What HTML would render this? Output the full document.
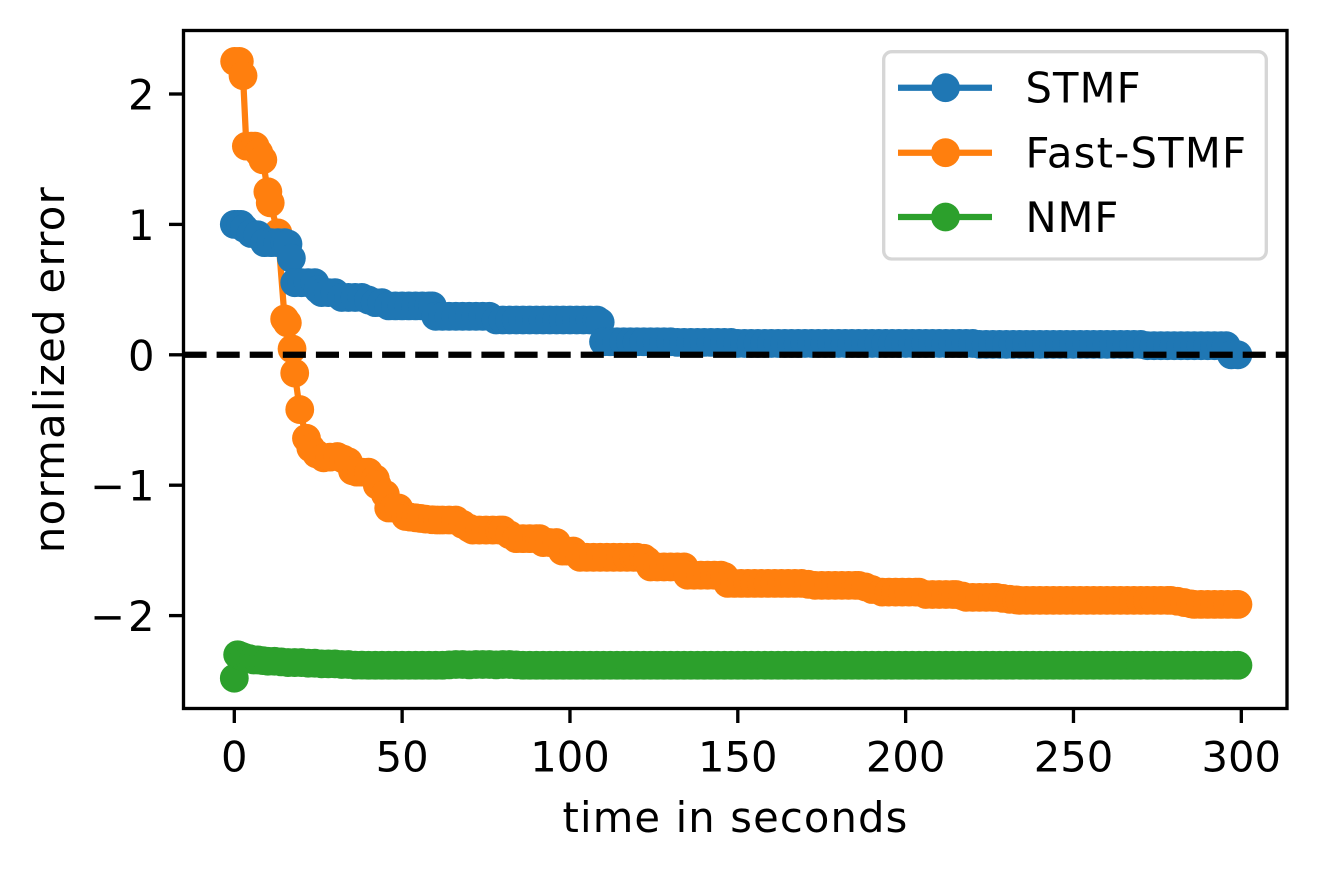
<!DOCTYPE html>
<html lang="en">
<head>
<meta charset="utf-8">
<title>Normalized error over time</title>
<style>
html,body{margin:0;padding:0;background:#fff;}
svg{display:block;}
text{font-family:"DejaVu Sans",sans-serif;font-size:41.67px;fill:#000;}
</style>
</head>
<body>
<svg id="chart" xmlns="http://www.w3.org/2000/svg" width="1317" height="871" viewBox="0 0 1317 871">
  <rect x="183.5" y="30.5" width="1103.5" height="678" fill="#fff"/>
  <defs><clipPath id="plot-clip"><rect x="183.5" y="30.5" width="1103.5" height="678"/></clipPath></defs>
  <g id="series-layer" clip-path="url(#plot-clip)"></g>
  <g id="tick-layer"></g>
  <rect x="183.5" y="30.5" width="1103.5" height="678" fill="none" stroke="#000" stroke-width="3.33"/>
  <text x="735.5" y="832" text-anchor="middle" style="letter-spacing:1.14px">time in seconds</text>
  <text transform="translate(64 369.5) rotate(-90)" text-anchor="middle" style="letter-spacing:1.35px">normalized error</text>
  <g>
    <rect x="883.7" y="51.7" width="382.6" height="207.3" rx="8" ry="8" fill="#fff" fill-opacity="0.8" stroke="#d6d6d6" stroke-width="3.33"/>
    <g>
      <line x1="898" x2="992" y1="87.7" y2="87.7" stroke="#1f77b4" stroke-width="6.25"/>
      <circle cx="945.5" cy="87.7" r="14.4" fill="#1f77b4"/>
      <text x="1025.5" y="102.5" style="letter-spacing:1.1px">STMF</text>
    </g>
    <g>
      <line x1="898" x2="992" y1="152.7" y2="152.7" stroke="#ff7f0e" stroke-width="6.25"/>
      <circle cx="945.5" cy="152.7" r="14.4" fill="#ff7f0e"/>
      <text x="1025.5" y="167.5" style="letter-spacing:1.25px">Fast-STMF</text>
    </g>
    <g>
      <line x1="898" x2="992" y1="217" y2="217" stroke="#2ca02c" stroke-width="6.25"/>
      <circle cx="945.5" cy="217" r="14.4" fill="#2ca02c"/>
      <text x="1025.5" y="232" style="letter-spacing:0.9px">NMF</text>
    </g>
  </g>
</svg>
<script>
var xTickValues = [0, 50, 100, 150, 200, 250, 300];
var xTickLabels = ["0", "50", "100", "150", "200", "250", "300"];
var yTickValues = [-2, -1, 0, 1, 2];
var yTickLabels = ["\u22122", "\u22121", "0", "1", "2"];
var referenceValue = 0;

var stmfTimes = [
0,1,2,3,5,7,9,11,13,15,16,17,18,20,22,24,25,26,28,30,32,34,36,38,40,42,44,46,48,50,52,54,56,58,59,
60,62,64,66,68,70,72,74,76,78,
80,82,84,86,88,90,92,94,96,98,
100,102,104,106,108,109,110,112,114,116,
118,120,122,124,126,128,130,132,134,136,
138,140,142,144,146,148,150,152,154,156,
158,160,162,164,166,168,170,172,174,176,
178,180,182,184,186,188,190,192,194,196,
198,200,202,204,206,208,210,212,214,216,
218,220,222,224,226,228,230,232,234,236,
238,240,242,244,246,248,250,252,254,256,
258,260,262,264,266,268,270,272,274,276,
278,280,282,284,286,288,290,292,294,295.5,
297,299];
var stmfValues = [
1,1,1,0.97,0.93,0.92,0.86,0.86,0.86,0.86,0.85,0.74,0.553,0.553,0.553,0.553,0.50,0.477,0.477,0.477,0.44,0.44,0.44,0.44,0.42,0.40,0.40,0.375,0.375,0.375,0.375,0.375,0.375,0.375,0.375,
0.295,0.295,0.295,0.295,0.295,0.295,0.295,0.295,0.295,0.267,
0.267,0.267,0.267,0.267,0.267,0.267,0.267,0.267,0.267,0.267,
0.267,0.267,0.267,0.267,0.267,0.25,0.10,0.10,0.10,0.10,
0.10,0.10,0.10,0.10,0.10,0.10,0.10,0.095,0.095,0.095,
0.095,0.095,0.095,0.095,0.095,0.095,0.087,0.087,0.087,0.087,
0.087,0.087,0.087,0.087,0.087,0.087,0.087,0.087,0.087,0.087,
0.087,0.087,0.087,0.087,0.087,0.087,0.087,0.087,0.087,0.087,
0.087,0.087,0.087,0.087,0.087,0.087,0.087,0.087,0.087,0.087,
0.087,0.087,0.08,0.08,0.08,0.08,0.08,0.08,0.08,0.08,
0.08,0.08,0.08,0.08,0.08,0.08,0.08,0.08,0.08,0.08,
0.08,0.08,0.08,0.08,0.08,0.08,0.08,0.07,0.07,0.07,
0.07,0.07,0.07,0.07,0.07,0.07,0.07,0.07,0.07,0.07,
0,0];

var fastStmfTimes = [
0.1,1.5,2.6,3.6,5,6.2,7.3,8.5,10,10.7,13,15,15.8,17.2,18,19.5,21.5,22.8,24.5,26.6,28.5,30.7,32.5,34,35.2,36.5,38,40,42,42.6,45,46,47.5,49,51,52.5,54,55.5,57,59,60.5,62,64,
66,68,70,71,73,75,77,79,80,82,
84,86,88,90,91,92,94,96,97.7,99,
101,103,105,107,109,111,113,115,117,119,
120,122,123,124,126,128,130,132,134,135,
137,139,141,143,145,146,147,149,151,153,
155,157,159,161,163,165,167,169,171,173,
175,177,179,181,183,185,186,188,190,193,
195,197,199,201,203,204,206,208,210,212,
214,215,217,218,220,222,224,226,227,229,
231,233,234,236,238,240,242,244,246,248,
250,252,254,256,258,260,262,264,266,268,
270,272,274,276,278,279,281,283,285,286,
288,290,292,294,296,298,299];
var fastStmfValues = [
2.25,2.25,2.14,1.60,1.60,1.60,1.55,1.495,1.25,1.165,0.935,0.275,0.245,0.045,-0.14,-0.42,-0.64,-0.715,-0.76,-0.79,-0.785,-0.78,-0.80,-0.82,-0.89,-0.90,-0.90,-0.90,-0.95,-1.0,-1.07,-1.175,-1.175,-1.175,-1.24,-1.245,-1.25,-1.255,-1.26,-1.265,-1.267,-1.267,-1.267,
-1.267,-1.30,-1.33,-1.344,-1.344,-1.344,-1.344,-1.344,-1.344,-1.38,
-1.41,-1.41,-1.41,-1.41,-1.41,-1.44,-1.44,-1.44,-1.505,-1.505,
-1.505,-1.553,-1.553,-1.553,-1.553,-1.553,-1.553,-1.553,-1.553,-1.553,
-1.553,-1.56,-1.58,-1.627,-1.627,-1.627,-1.627,-1.627,-1.627,-1.69,
-1.69,-1.69,-1.69,-1.69,-1.69,-1.70,-1.753,-1.753,-1.753,-1.753,
-1.753,-1.753,-1.753,-1.753,-1.753,-1.753,-1.753,-1.753,-1.76,-1.768,
-1.768,-1.768,-1.768,-1.768,-1.768,-1.768,-1.768,-1.78,-1.80,-1.82,
-1.82,-1.82,-1.82,-1.82,-1.82,-1.82,-1.838,-1.838,-1.838,-1.838,
-1.838,-1.838,-1.85,-1.86,-1.86,-1.86,-1.86,-1.86,-1.86,-1.868,
-1.875,-1.88,-1.883,-1.883,-1.883,-1.883,-1.883,-1.883,-1.883,-1.883,
-1.883,-1.883,-1.883,-1.883,-1.883,-1.883,-1.883,-1.883,-1.883,-1.883,
-1.883,-1.883,-1.883,-1.883,-1.883,-1.883,-1.89,-1.90,-1.91,-1.914,
-1.914,-1.914,-1.914,-1.914,-1.914,-1.914,-1.914];

var nmfTimes = [
0,1,2,3,4.5,5.7,7,8.5,10,12,14,16,18,20,22,24,26,28,30,32,34,36,38,
40,42,44,46,48,50,52,54,56,58,
60,62,64,66,68,70,72,74,76,78,
80,82,84,86,88,90,92,94,96,98,
100,102,104,106,108,110,112,114,116,118,
120,122,124,126,128,130,132,134,136,138,
140,142,144,146,148,150,152,154,156,158,
160,162,164,166,168,170,172,174,176,178,
180,182,184,186,188,190,192,194,196,198,
200,202,204,206,208,210,212,214,216,218,
220,222,224,226,228,230,232,234,236,238,
240,242,244,246,248,250,252,254,256,258,
260,262,264,266,268,270,272,274,276,278,
280,282,284,286,288,290,292,294,296,298,
299];
var nmfValues = [
-2.48,-2.30,-2.31,-2.32,-2.33,-2.34,-2.34,-2.345,-2.35,-2.35,-2.355,-2.36,-2.36,-2.36,-2.365,-2.365,-2.37,-2.37,-2.37,-2.375,-2.375,-2.38,-2.38,
-2.381,-2.381,-2.381,-2.381,-2.381,-2.381,-2.381,-2.381,-2.381,-2.381,
-2.381,-2.381,-2.378,-2.375,-2.375,-2.378,-2.375,-2.375,-2.375,-2.378,
-2.375,-2.375,-2.378,-2.381,-2.381,-2.381,-2.381,-2.381,-2.381,-2.381,
-2.381,-2.381,-2.381,-2.381,-2.381,-2.381,-2.381,-2.381,-2.381,-2.381,
-2.381,-2.381,-2.381,-2.381,-2.381,-2.381,-2.381,-2.381,-2.381,-2.381,
-2.381,-2.381,-2.381,-2.381,-2.381,-2.381,-2.381,-2.381,-2.381,-2.381,
-2.381,-2.381,-2.381,-2.381,-2.381,-2.381,-2.381,-2.381,-2.381,-2.381,
-2.381,-2.381,-2.381,-2.381,-2.381,-2.381,-2.381,-2.381,-2.381,-2.381,
-2.381,-2.381,-2.381,-2.381,-2.381,-2.381,-2.381,-2.381,-2.381,-2.381,
-2.381,-2.381,-2.381,-2.381,-2.381,-2.381,-2.381,-2.381,-2.381,-2.381,
-2.381,-2.381,-2.381,-2.381,-2.381,-2.381,-2.381,-2.381,-2.381,-2.381,
-2.381,-2.381,-2.381,-2.381,-2.381,-2.381,-2.381,-2.381,-2.381,-2.381,
-2.381,-2.381,-2.381,-2.381,-2.381,-2.381,-2.381,-2.381,-2.381,-2.381,
-2.381];

var SVG_NS = "http://www.w3.org/2000/svg";
var X0 = 234.3, XS = 3.3567;
var Y0 = 354.8, YS = 130.4;

function xScale(t) { return X0 + t * XS; }
function yScale(v) { return Y0 - v * YS; }

function drawSeries(times, values, color, name) {
  var layer = document.getElementById("series-layer");
  var g = document.createElementNS(SVG_NS, "g");
  
  
  var pts = [];
  for (var i = 0; i < times.length; i++) {
    pts.push(xScale(times[i]).toFixed(2) + "," + yScale(values[i]).toFixed(2));
  }
  var line = document.createElementNS(SVG_NS, "polyline");
  
  
  line.setAttribute("points", pts.join(" "));
  line.setAttribute("fill", "none");
  line.setAttribute("stroke", color);
  line.setAttribute("stroke-width", "6.25");
  g.appendChild(line);
  for (var j = 0; j < times.length; j++) {
    var c = document.createElementNS(SVG_NS, "circle");
    
    
    c.setAttribute("cx", xScale(times[j]).toFixed(2));
    c.setAttribute("cy", yScale(values[j]).toFixed(2));
    c.setAttribute("r", "14.4");
    c.setAttribute("fill", color);
    g.appendChild(c);
  }
  layer.appendChild(g);
}

function drawReference() {
  var layer = document.getElementById("series-layer");
  var l = document.createElementNS(SVG_NS, "line");
  
  
  l.setAttribute("x1", "183.5");
  l.setAttribute("x2", "1287");
  l.setAttribute("y1", yScale(referenceValue));
  l.setAttribute("y2", yScale(referenceValue));
  l.setAttribute("stroke", "#000");
  l.setAttribute("stroke-width", "6.25");
  l.setAttribute("stroke-dasharray", "23.1 10");
  layer.appendChild(l);
}

function drawTicks() {
  var layer = document.getElementById("tick-layer");
  xTickValues.forEach(function (v, i) {
    var px = xScale(v);
    var t = document.createElementNS(SVG_NS, "line");
    
    
    t.setAttribute("x1", px); t.setAttribute("x2", px);
    t.setAttribute("y1", "708.5"); t.setAttribute("y2", "723");
    t.setAttribute("stroke", "#000"); t.setAttribute("stroke-width", "3.33");
    layer.appendChild(t);
    var s = document.createElementNS(SVG_NS, "text");
    
    
    s.setAttribute("x", px); s.setAttribute("y", "771.5");
    s.setAttribute("text-anchor", "middle");
    s.textContent = xTickLabels[i];
    layer.appendChild(s);
  });
  yTickValues.forEach(function (v, i) {
    var py = yScale(v);
    var t = document.createElementNS(SVG_NS, "line");
    
    
    t.setAttribute("x1", "169"); t.setAttribute("x2", "183.5");
    t.setAttribute("y1", py); t.setAttribute("y2", py);
    t.setAttribute("stroke", "#000"); t.setAttribute("stroke-width", "3.33");
    layer.appendChild(t);
    var s = document.createElementNS(SVG_NS, "text");
    
    
    s.setAttribute("x", "154.5"); s.setAttribute("y", py + 15.5);
    s.setAttribute("text-anchor", "end");
    var label = yTickLabels[i];
    if (label.charAt(0) === "\u2212") {
      var sign = document.createElementNS(SVG_NS, "tspan");
      sign.setAttribute("style", "letter-spacing:3px");
      sign.textContent = label.charAt(0);
      s.appendChild(sign);
      s.appendChild(document.createTextNode(label.slice(1)));
    } else {
      s.textContent = label;
    }
    layer.appendChild(s);
  });
}

drawSeries(fastStmfTimes, fastStmfValues, "#ff7f0e", "fast-stmf");
drawSeries(stmfTimes, stmfValues, "#1f77b4", "stmf");
drawSeries(nmfTimes, nmfValues, "#2ca02c", "nmf");
drawReference();
drawTicks();
</script>
</body>
</html>
